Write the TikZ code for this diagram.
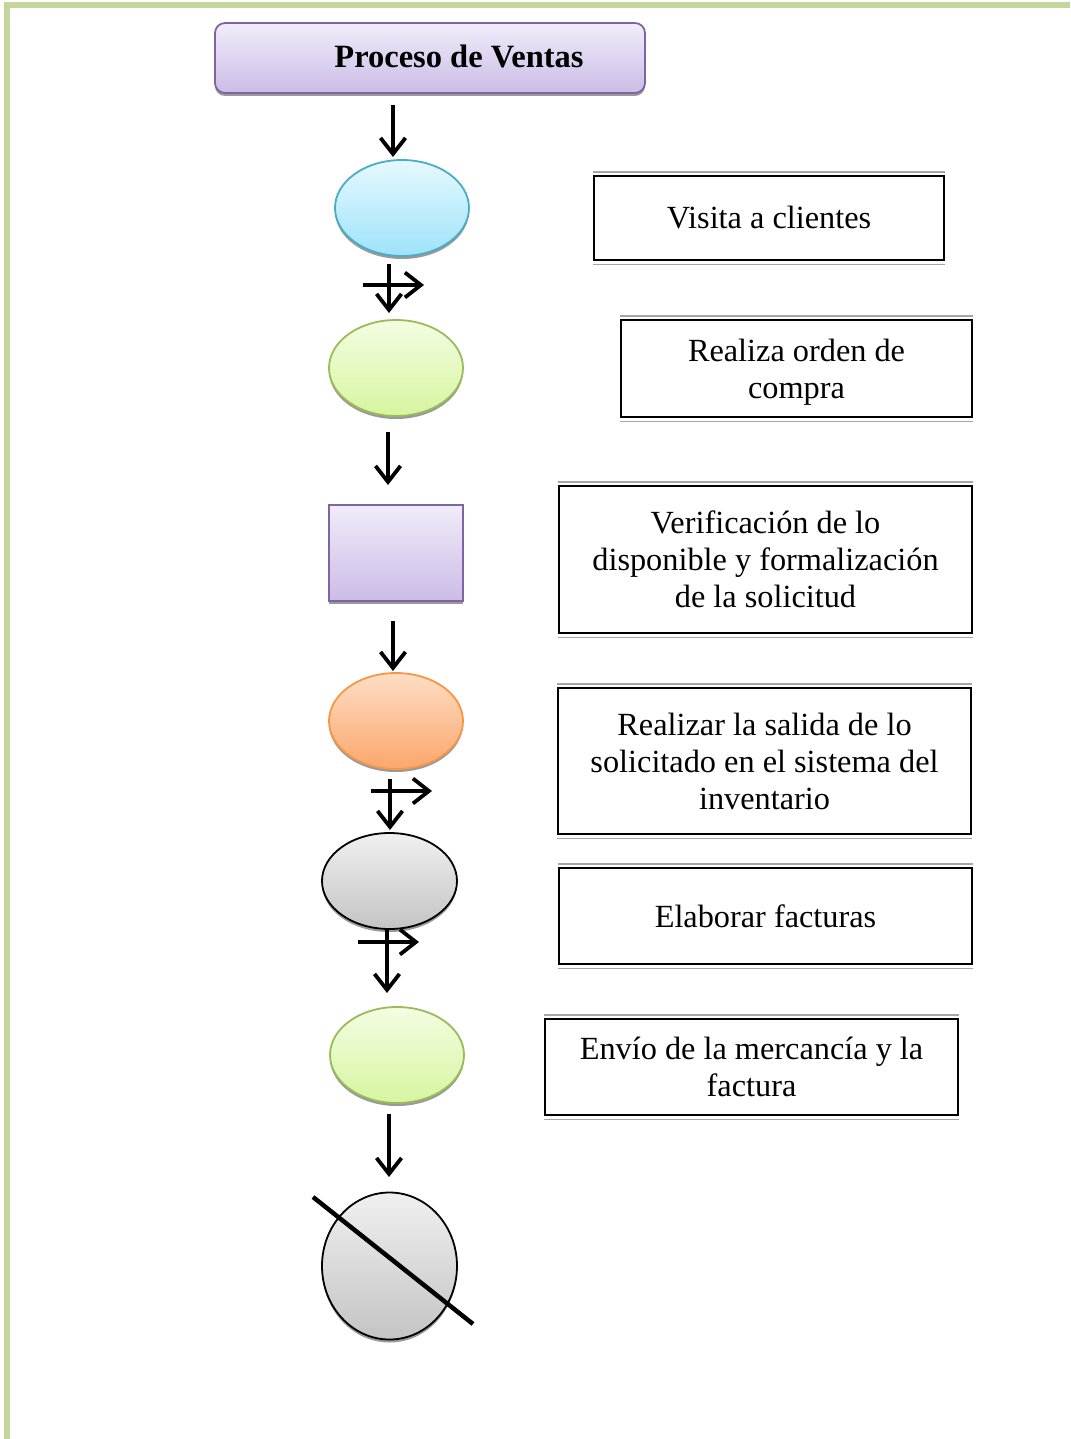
\documentclass[tikz,border=0pt]{standalone}
\usepackage{fontspec}
\setmainfont{Liberation Serif}
\usetikzlibrary{arrows.meta,shadows,shapes.geometric}
\definecolor{bordergreen}{HTML}{C3D69B}
\definecolor{purpleline}{HTML}{8064A2}
\definecolor{purpletop}{HTML}{F1ECFA}
\definecolor{purplebot}{HTML}{CBBCE6}
\definecolor{bluetop}{HTML}{E6F9FF}
\definecolor{bluebot}{HTML}{9EE3FA}
\definecolor{blueline}{HTML}{4BACC6}
\definecolor{greentop}{HTML}{F4FDE2}
\definecolor{greenbot}{HTML}{D6F5A0}
\definecolor{greenline}{HTML}{9BBB59}
\definecolor{orangetop}{HTML}{FEDDC4}
\definecolor{orangebot}{HTML}{FBA76C}
\definecolor{orangeline}{HTML}{F79646}
\definecolor{graytop}{HTML}{F0F0F0}
\definecolor{graybot}{HTML}{C4C4C4}
\tikzset{
  x=1pt,y=-1pt,
  shd/.style={drop shadow={shadow xshift=0pt,shadow yshift=-3pt,fill=black!40,opacity=1}},
  flowarrow/.style={line width=3.8pt,-{Straight Barb[length=16pt,width=25pt]}},
  blueell/.style={ellipse,minimum width=134pt,minimum height=96pt,inner sep=0pt,draw=blueline,line width=1.8pt,top color=bluetop,bottom color=bluebot,shd},
  greenell/.style={ellipse,minimum width=134pt,minimum height=96pt,inner sep=0pt,draw=greenline,line width=1.8pt,top color=greentop,bottom color=greenbot,shd},
  orangeell/.style={ellipse,minimum width=134pt,minimum height=96pt,inner sep=0pt,draw=orangeline,line width=1.8pt,top color=orangetop,bottom color=orangebot,shd},
  grayell/.style={ellipse,minimum width=135pt,minimum height=96pt,inner sep=0pt,draw=black,line width=1.8pt,top color=graytop,bottom color=graybot,shd},
  purplebox/.style={rectangle,minimum width=134pt,minimum height=96pt,inner sep=0pt,draw=purpleline,line width=2pt,top color=purpletop,bottom color=purplebot,shd},
  txtbox/.style={rectangle,draw=black,line width=2pt,fill=white,align=center,font=\fontsize{32.3}{37}\selectfont,inner sep=0pt},
  txtonly/.style={align=center,font=\fontsize{32.3}{37}\selectfont,inner sep=0pt},
}
\newcommand{\grayrims}[1]{%
  \draw[black!35,line width=1.8pt] ([yshift=3pt]#1.north west) -- ([yshift=3pt]#1.north east);
  \draw[black!35,line width=1.8pt] ([yshift=-3.5pt]#1.south west) -- ([yshift=-3.5pt]#1.south east);
}
\begin{document}
\begin{tikzpicture}
\useasboundingbox (0,0) rectangle (1070,1439);
% page border
\draw[bordergreen,line width=6pt] (7,1439) -- (7,5) -- (1070,5);

% title
\node[rectangle,rounded corners=10pt,minimum width=430pt,minimum height=70pt,draw=purpleline,line width=1.8pt,top color=purpletop,bottom color=purplebot,shd] (title) at (430,58) {};
\node[font=\fontsize{32.5}{38}\selectfont\bfseries] (titletxt) at (459,56) {Proceso de Ventas};

% shapes
\node[blueell] (s1) at (402,208) {};
\node[greenell] (s2) at (396,368) {};
\node[purplebox] (s3) at (396,553) {};
\node[orangeell] (s4) at (396,721) {};
\node[grayell] (s5) at (389.5,881) {};
\node[greenell] (s6) at (397,1055) {};
\node[grayell,minimum height=147pt] (s7) at (389.5,1266) {};
\coordinate (xa) at (313,1197);
\coordinate (xb) at (473,1324);
\draw[line width=4.5pt] (xa) -- (xb);

% arrows
\coordinate (a0s) at (393,105); \coordinate (a0e) at (393,157);
\draw[flowarrow] (a0s) -- (a0e);
\coordinate (a1s) at (389,264); \coordinate (a1e) at (389,313);
\draw[flowarrow] (a1s) -- (a1e);
\coordinate (h1s) at (363,285); \coordinate (h1e) at (424,285);
\draw[flowarrow] (h1s) -- (h1e);
\coordinate (a2s) at (388,432); \coordinate (a2e) at (388,485);
\draw[flowarrow] (a2s) -- (a2e);
\coordinate (a3s) at (393,621); \coordinate (a3e) at (393,671);
\draw[flowarrow] (a3s) -- (a3e);
\coordinate (a4s) at (390,779); \coordinate (a4e) at (390,830);
\draw[flowarrow] (a4s) -- (a4e);
\coordinate (h4s) at (371,791); \coordinate (h4e) at (432,791);
\draw[flowarrow] (h4s) -- (h4e);
\coordinate (a5s) at (387,929); \coordinate (a5e) at (387,993);
\draw[flowarrow] (a5s) -- (a5e);
\coordinate (h5s) at (358,942); \coordinate (h5e) at (419,942);
\draw[flowarrow] (h5s) -- (h5e);
\coordinate (a6s) at (389,1114); \coordinate (a6e) at (389,1177);
\draw[flowarrow] (a6s) -- (a6e);

% text boxes
\node[txtbox,minimum width=350pt,minimum height=84pt] (t1) at (769,218) {Visita a clientes};
\grayrims{t1}
\node[txtbox,minimum width=351pt,minimum height=97pt] (t2) at (796.5,368.5) {};
\node[txtonly] (t2txt) at (796.5,372.5) {Realiza orden de\\compra};
\grayrims{t2}
\node[txtbox,minimum width=413pt,minimum height=147pt] (t3) at (765.5,559.5) {Verificación de lo\\disponible y formalización\\de la solicitud};
\grayrims{t3}
\node[txtbox,minimum width=413pt,minimum height=146pt] (t4) at (764.5,761) {Realizar la salida de lo\\solicitado en el sistema del\\inventario};
\grayrims{t4}
\node[txtbox,minimum width=413pt,minimum height=96pt] (t5) at (765.5,916) {Elaborar facturas};
\grayrims{t5}
\node[txtbox,minimum width=413pt,minimum height=96pt] (t6) at (751.5,1067) {Envío de la mercancía y la\\factura};
\grayrims{t6}
\end{tikzpicture}
\end{document}
